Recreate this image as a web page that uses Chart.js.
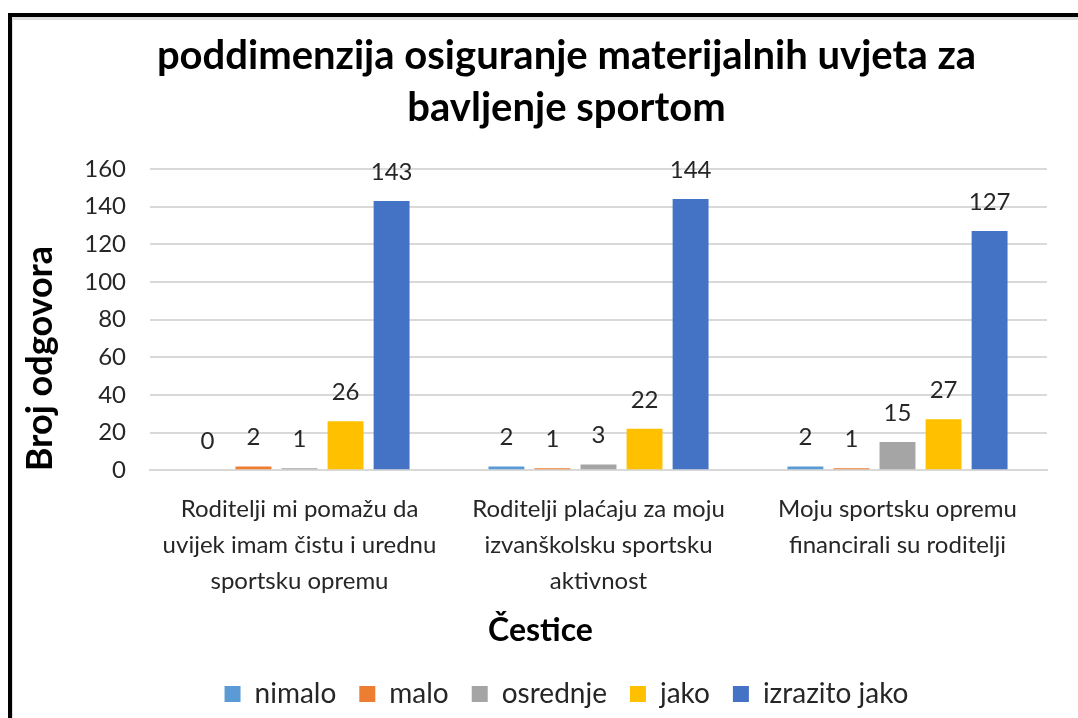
<!DOCTYPE html>
<html>
<head>
<meta charset="utf-8">
<script src="https://cdn.jsdelivr.net/npm/chart.js@4"></script>
<style>
  html, body { margin: 0; padding: 0; background: #fff; }
  #frame {
    position: absolute; left: 8px; top: 13px; width: 1070px; height: 705px;
    border-left: 4px solid #000; border-top: 4px solid #000;
    box-shadow: inset 1px 3px 0 #dedede;
    overflow: hidden;
  }
  #wrap { position: absolute; left: 0; top: 0; width: 1098px; height: 701px; }
</style>
</head>
<body>
<div id="frame"><div id="wrap"><canvas id="myChart"></canvas></div></div>
<script>
// categories (x axis)
const categories = [
  ["Roditelji mi pomažu da", "uvijek imam čistu i urednu", "sportsku opremu"],
  ["Roditelji plaćaju za moju", "izvanškolsku sportsku", "aktivnost"],
  ["Moju sportsku opremu", "financirali su roditelji"]
];
// series
const seriesNames = ["nimalo", "malo", "osrednje", "jako", "izrazito jako"];
const nimalo = [0, 2, 2];
const malo = [2, 1, 1];
const osrednje = [1, 3, 15];
const jako = [26, 22, 27];
const izrazitoJako = [143, 144, 127];
const colors = ["#5B9BD5", "#ED7D31", "#A5A5A5", "#FFC000", "#4472C4"];
// y ticks
const yTicks = [0, 20, 40, 60, 80, 100, 120, 140, 160];

const fontFam = "Lato, 'Open Sans', sans-serif";
const allSeries = [nimalo, malo, osrednje, jako, izrazitoJako];
const xTitle = "Čestice";
const yTitle = "Broj odgovora";

//value labels above bars + axis titles (Excel puts them a bit off centre)
const extras = {
  id: 'extras',
  afterDatasetsDraw(chart) {
    const ctx = chart.ctx;
    ctx.save();
    ctx.font = "24px " + fontFam;
    ctx.fillStyle = "#262626";
    ctx.textAlign = "center";
    ctx.textBaseline = "middle";
    chart.data.datasets.forEach((ds, i) => {
      const meta = chart.getDatasetMeta(i);
      meta.data.forEach((bar, j) => {
        ctx.fillText(ds.data[j], bar.x, bar.y - 29);
      });
    });
    const area = chart.chartArea;
    const xs = chart.scales.x;
    ctx.fillStyle = "#000";
    ctx.font = "bold 32px " + fontFam;
    ctx.fillText(xTitle, (area.left + area.right) / 2 - 58, xs.bottom - 26);
    ctx.translate(28, (area.top + area.bottom) / 2 + 39);
    ctx.rotate(-Math.PI / 2);
    ctx.font = "bold 36px " + fontFam;
    ctx.fillText(yTitle, 0, 0);
    ctx.restore();
  }
};

const data = {
  labels: categories,
  datasets: seriesNames.map((name, i) => ({
    label: name,
    data: allSeries[i],
    backgroundColor: colors[i],
    barPercentage: 0.78,
    categoryPercentage: 0.77
  }))
};

const config = {
  type: 'bar',
  data: data,
  options: {
    responsive: true,
    maintainAspectRatio: false,
    animation: false,
    layout: { autoPadding: false, padding: { left: 74, right: 63, top: 0, bottom: 0 } },
    plugins: {
      title: {
        display: true,
        text: ["poddimenzija osiguranje materijalnih uvjeta za", "bavljenje sportom"],
        font: { family: fontFam, size: 40, weight: 'bold', lineHeight: 1.3 },
        color: "#000",
        padding: { top: 13, bottom: 35 }
      },
      legend: {
        position: 'bottom',
        labels: {
          font: { family: fontFam, size: 28 },
          color: "#262626",
          boxWidth: 16,
          boxHeight: 16,
          padding: 23
        }
      },
      tooltip: { enabled: false }
    },
    scales: {
      x: {
        afterFit(scale) { scale.paddingLeft = 0; scale.paddingRight = 0; },
        grid: { display: false, drawTicks: false },
        border: { color: "#d9d9d9", width: 2 },
        ticks: {
          font: { family: fontFam, size: 24, lineHeight: 1.5 },
          color: "#262626",
          maxRotation: 0,
          autoSkip: false,
          padding: 21
        },
        title: {
          display: true,
          text: xTitle,
          font: { family: fontFam, size: 29, weight: 'bold' },
          color: "rgba(0,0,0,0)",
          padding: { top: 2, bottom: 0 }
        }
      },
      y: {
        min: 0,
        max: 160,
        afterBuildTicks(axis) { axis.ticks = yTicks.map(v => ({ value: v })); },
        afterFit(scale) { scale.width = 64; },
        grid: { color: "#d9d9d9", lineWidth: 2, drawTicks: false },
        border: { display: false },
        ticks: {
          font: { family: fontFam, size: 24 },
          color: "#262626",
          padding: 24
        },
        title: { display: false }
      }
    }
  },
  plugins: [extras]
};

const myChart = new Chart(document.getElementById('myChart'), config);
</script>
</body>
</html>
